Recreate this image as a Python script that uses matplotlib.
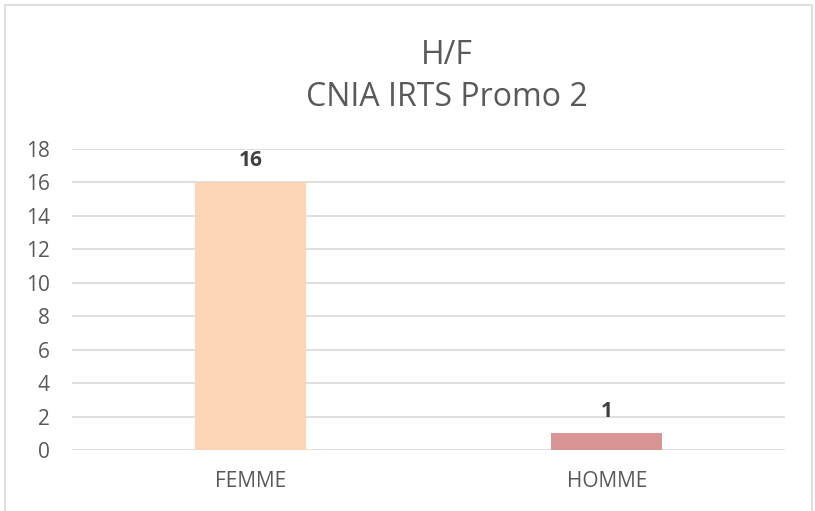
import matplotlib
matplotlib.use("Agg")
import matplotlib.pyplot as plt
from matplotlib.patches import Rectangle

categories = ["FEMME", "HOMME"]
counts = [16, 1]
bar_colors = ["#FBD5B5", "#D99594"]
y_ticks = [0, 2, 4, 6, 8, 10, 12, 14, 16, 18]

W, H = 815, 511
fig = plt.figure(figsize=(W / 100, H / 100), dpi=100)
plt.rcParams["font.family"] = ["Open Sans", "DejaVu Sans"]

# chart frame (bottom edge is cut off in the reference)
fig.patches.append(Rectangle((5 / W, -0.1), 807 / W, 1.1 - 5 / H,
                             transform=fig.transFigure, fill=False,
                             edgecolor="#d9d9d9", linewidth=1.2))

ax = fig.add_axes([72 / W, 61 / H, 713 / W, 301 / H])
x = list(range(len(categories)))
ax.bar(x, counts, width=0.31, color=bar_colors, zorder=2)
for xi, v in zip(x, counts):
    ax.annotate(str(v), (xi, v), xytext=(0, 8), textcoords="offset points",
                ha="center", va="bottom", fontsize=15, fontweight="bold",
                color="#404040")

ax.set_xlim(-0.5, 1.5)
ax.set_ylim(0, 18)
ax.set_yticks(y_ticks)
ax.set_xticks(x)
ax.set_xticklabels(categories)
ax.tick_params(axis="both", length=0, labelsize=15, labelcolor="#595959")
ax.tick_params(axis="x", pad=15)
ax.tick_params(axis="y", pad=16)
ax.grid(axis="y", color="#d9d9d9", linewidth=1.2, zorder=0)
for s in ax.spines.values():
    s.set_visible(False)

fig.text(447 / W, 1 - 55 / H, "H/F", ha="center", va="center",
         fontsize=23, color="#595959")
fig.text(447 / W, 1 - 97 / H, "CNIA IRTS Promo 2", ha="center", va="center",
         fontsize=23, color="#595959")

fig.savefig("out.png", dpi=100)
